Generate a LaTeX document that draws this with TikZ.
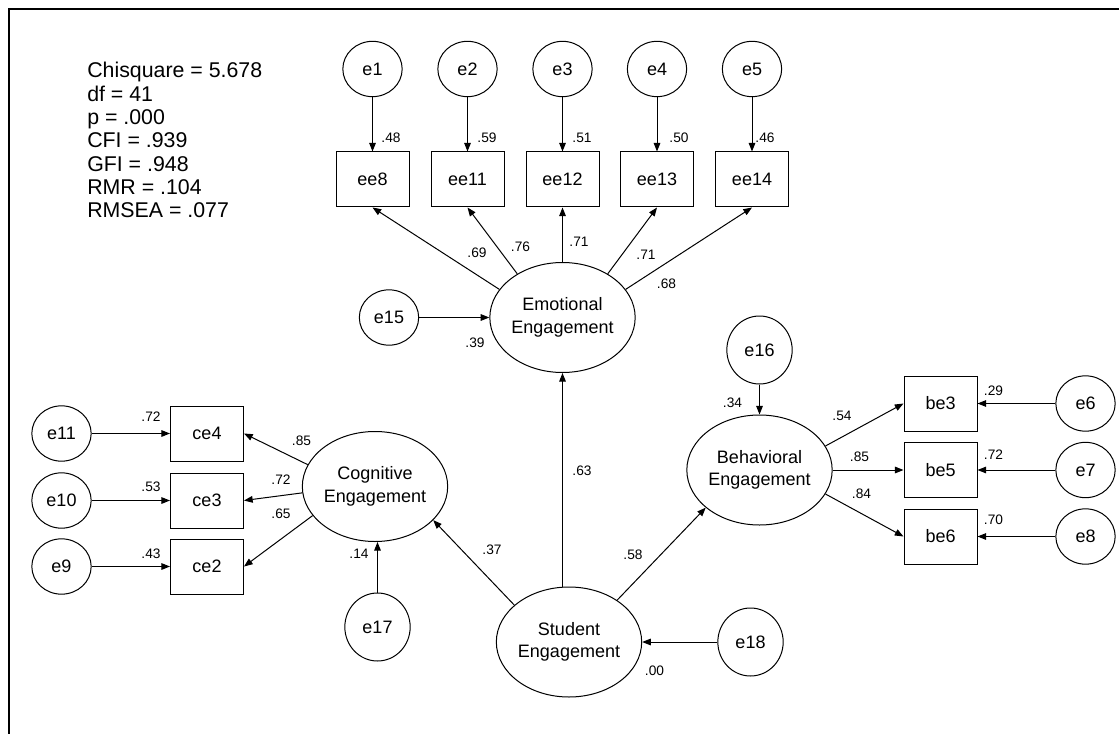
\documentclass[tikz,border=0pt]{standalone}
\usepackage{fontspec}
\setmainfont{Liberation Sans}
\usetikzlibrary{shapes.geometric,arrows.meta}
\begin{document}
\begin{tikzpicture}[x=0.75pt,y=-0.75pt,
  obs/.style={draw, rectangle, minimum width=54.75pt, minimum height=41.25pt, inner sep=0pt, line width=0.75pt, font=\fontsize{13.5}{17}\selectfont},
  err/.style={draw, ellipse, minimum width=44.5pt, minimum height=41.5pt, inner sep=0pt, line width=0.75pt, font=\fontsize{13.5}{17}\selectfont},
  errbig/.style={err, minimum width=49pt, minimum height=51pt},
  lat/.style={draw, ellipse, minimum width=109pt, minimum height=82.5pt, inner sep=-7pt, line width=0.75pt, align=center, font=\fontsize{13.5}{17}\selectfont},
  lbl/.style={font=\fontsize{10.3}{12}\selectfont, inner sep=0pt},
  arr/.style={-{Triangle[length=6.5pt,width=5pt]}, line width=0.75pt},
  stat/.style={anchor=base west, inner sep=0pt, font=\fontsize{16}{18}\selectfont}
]
\useasboundingbox (0,0) rectangle (1119,734);
\draw[line width=1.5pt] (9,734) -- (9,9) -- (1119,9);

% fit statistics
\node[stat] (s1) at (87,78) {Chisquare = 5.678};
\node[stat] (s2) at (87,101.3) {df = 41};
\node[stat] (s3) at (87,124.7) {p = .000};
\node[stat] (s4) at (87,148) {CFI = .939};
\node[stat] (s5) at (87,171.3) {GFI = .948};
\node[stat] (s6) at (87,194.7) {RMR = .104};
\node[stat] (s7) at (87,218) {RMSEA = .077};

% emotional engagement block
\node[obs] (ee8)  at (372.5,179.5) {ee8};
\node[obs] (ee11) at (467.5,179.5) {ee11};
\node[obs] (ee12) at (562.5,179.5) {ee12};
\node[obs] (ee13) at (657,179.5) {ee13};
\node[obs] (ee14) at (752,179.5) {ee14};
\node[err] (e1) at (372.5,69) {e1};
\node[err] (e2) at (467.5,69) {e2};
\node[err] (e3) at (562.5,69) {e3};
\node[err] (e4) at (657,69) {e4};
\node[err] (e5) at (752,69) {e5};
\node[lat] (EE) at (562.5,317.5) {Emotional\\Engagement};
\node[err] (e15) at (389,317.5) {e15};

% behavioral block
\node[errbig] (e16) at (759.5,350) {e16};
\node[lat] (BE) at (759.5,470) {Behavioral\\Engagement};
\node[obs] (be3) at (940.5,403.5) {be3};
\node[obs] (be5) at (940.5,470) {be5};
\node[obs] (be6) at (940.5,536.5) {be6};
\node[err] (e6) at (1085.5,403.5) {e6};
\node[err] (e7) at (1085.5,470) {e7};
\node[err] (e8) at (1085.5,536.5) {e8};

% cognitive block
\node[lat] (CE) at (375,486.5) {Cognitive\\Engagement};
\node[obs] (ce4) at (207,433.5) {ce4};
\node[obs] (ce3) at (207,500.5) {ce3};
\node[obs] (ce2) at (207,566.5) {ce2};
\node[err] (e11) at (61.5,433.5) {e11};
\node[err] (e10) at (61.5,500.5) {e10};
\node[err] (e9)  at (61.5,566.5) {e9};
\node[errbig] (e17) at (377.5,627) {e17};

% second order
\node[lat] (SE) at (569,642) {Student\\Engagement};
\node[errbig] (e18) at (750.5,642) {e18};

% arrows: errors to indicators
\draw[arr] (e1) -- (ee8);
\draw[arr] (e2) -- (ee11);
\draw[arr] (e3) -- (ee12);
\draw[arr] (e4) -- (ee13);
\draw[arr] (e5) -- (ee14);
\draw[arr] (e11) -- (ce4);
\draw[arr] (e10) -- (ce3);
\draw[arr] (e9) -- (ce2);
\draw[arr] (e6) -- (be3);
\draw[arr] (e7) -- (be5);
\draw[arr] (e8) -- (be6);

% loadings
\draw[arr] (EE.156) -- (ee8.south);
\draw[arr] (EE.136) -- (ee11.south);
\draw[arr] (EE.90) -- (ee12.south);
\draw[arr] (EE.44) -- (ee13.south);
\draw[arr] (EE.24) -- (ee14.south);
\draw[arr] (CE.162) -- (ce4.east);
\draw[arr] (CE.185) -- (ce3.east);
\draw[arr] (CE.205) -- (ce2.east);
\draw[arr] (BE.20) -- (be3.west);
\draw[arr] (BE.east) -- (be5.west);
\draw[arr] (BE.-20) -- (be6.west);

% structural
\draw[arr] (e15) -- (EE);
\draw[arr] (SE.north -| EE.south) -- (EE.south);
\draw[arr] (SE.146) -- (CE.-30);
\draw[arr] (SE.41) -- (BE.215);
\draw[arr] (e16) -- (BE);
\draw[arr] (e17.north) -- (e17.north |- CE.south);
\draw[arr] (e18) -- (SE);

% labels
\node[lbl] (l1) at (391,137.5) {.48};
\node[lbl] (l2) at (487,137.5) {.59};
\node[lbl] (l3) at (582,137.5) {.51};
\node[lbl] (l4) at (679,137.5) {.50};
\node[lbl] (l5) at (765,137.5) {.46};
\node[lbl] (l6) at (477,253) {.69};
\node[lbl] (l7) at (520.5,246.5) {.76};
\node[lbl] (l8) at (579,242) {.71};
\node[lbl] (l9) at (646,255) {.71};
\node[lbl] (l10) at (666.5,284) {.68};
\node[lbl] (l11) at (475,343) {.39};
\node[lbl] (l12) at (582,471) {.63};
\node[lbl] (l13) at (492,549.5) {.37};
\node[lbl] (l14) at (633,555) {.58};
\node[lbl] (l15) at (654.5,671) {.00};
\node[lbl] (l16) at (732.5,402.5) {.34};
\node[lbl] (l17) at (842,416) {.54};
\node[lbl] (l18) at (859.5,457) {.85};
\node[lbl] (l19) at (861.5,493.5) {.84};
\node[lbl] (l20) at (993.5,390.5) {.29};
\node[lbl] (l21) at (993.5,455) {.72};
\node[lbl] (l22) at (993.5,520) {.70};
\node[lbl] (l23) at (151,417) {.72};
\node[lbl] (l24) at (151,486.5) {.53};
\node[lbl] (l25) at (151,554) {.43};
\node[lbl] (l26) at (301.5,441) {.85};
\node[lbl] (l27) at (281,480) {.72};
\node[lbl] (l28) at (281,514) {.65};
\node[lbl] (l29) at (359,554) {.14};
\end{tikzpicture}
\end{document}
